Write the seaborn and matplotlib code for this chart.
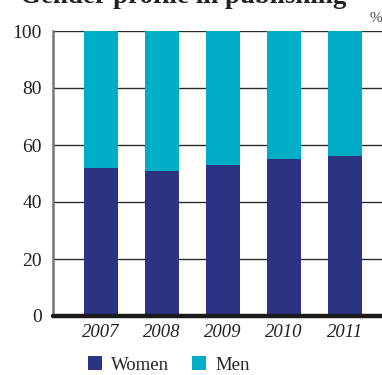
import matplotlib
matplotlib.use("Agg")
import matplotlib.pyplot as plt
import seaborn as sns
import pandas as pd
from matplotlib.patches import Patch

years = ["2007", "2008", "2009", "2010", "2011"]
women = [52, 51, 53, 55, 56]
men = [48, 49, 47, 45, 44]
yticks = [0, 20, 40, 60, 80, 100]
title = "Gender profile in publishing"

c_women = "#2b3382"
c_men = "#00adc6"

sns.set_style("white")
plt.rcParams["font.family"] = ["Liberation Serif", "DejaVu Serif"]

df = pd.DataFrame({"year": years, "women": women, "men": men})
df["total"] = df["women"] + df["men"]

fig = plt.figure(figsize=(3.82, 3.75), dpi=100)
ax = fig.add_axes([53 / 382, 1 - 316 / 375, 1 - 53 / 382, (316 - 31) / 375])

sns.barplot(data=df, x="year", y="total", color=c_men, width=0.555,
            saturation=1, ax=ax, zorder=3, linewidth=0, edgecolor="none")
sns.barplot(data=df, x="year", y="women", color=c_women, width=0.555,
            saturation=1, ax=ax, zorder=3, linewidth=0, edgecolor="none")

ax.set_ylim(0, 100)
ax.set_xlim(-0.78, 4.6)
ax.set_yticks(yticks)
ax.set_yticklabels([str(t) for t in yticks], fontsize=14, color="#222222")
ax.set_xticks(range(len(years)))
ax.set_xticklabels(years, fontsize=13.5, style="italic", color="#222222")
ax.tick_params(axis="both", length=0, pad=8)
ax.tick_params(axis="x", pad=6)
ax.set_xlabel("")
ax.set_ylabel("")

for t in yticks[1:]:
    ax.axhline(t, color="#2a2a2a", linewidth=1.0, zorder=1)
ax.axhline(0, color="#1a1a1a", linewidth=3.2, zorder=4, clip_on=False)

for s in ["top", "right", "bottom"]:
    ax.spines[s].set_visible(False)
ax.spines["left"].set_color("#777777")
ax.spines["left"].set_linewidth(1.8)

t = fig.text(20 / 382, 1 - 3 / 375, title, fontsize=20, fontweight="bold",
             va="baseline", ha="left", color="#222222")
fig.canvas.draw()
w = t.get_window_extent().width
t.set_fontsize(20 * 325 / w)

fig.text(376 / 382, 1 - 19 / 375, "%", fontsize=11, color="#444444",
         ha="center", va="center")

handles = [Patch(facecolor=c_women, edgecolor="none", label="Women"),
           Patch(facecolor=c_men, edgecolor="none", label="Men")]
fig.legend(handles=handles, loc="center left",
           bbox_to_anchor=(88 / 382, 1 - 365 / 375), ncol=2, frameon=False,
           fontsize=13.5, handlelength=0.75, handleheight=0.75,
           handletextpad=0.5, columnspacing=1.2, borderpad=0,
           borderaxespad=0)

fig.savefig("out.png", dpi=100)
